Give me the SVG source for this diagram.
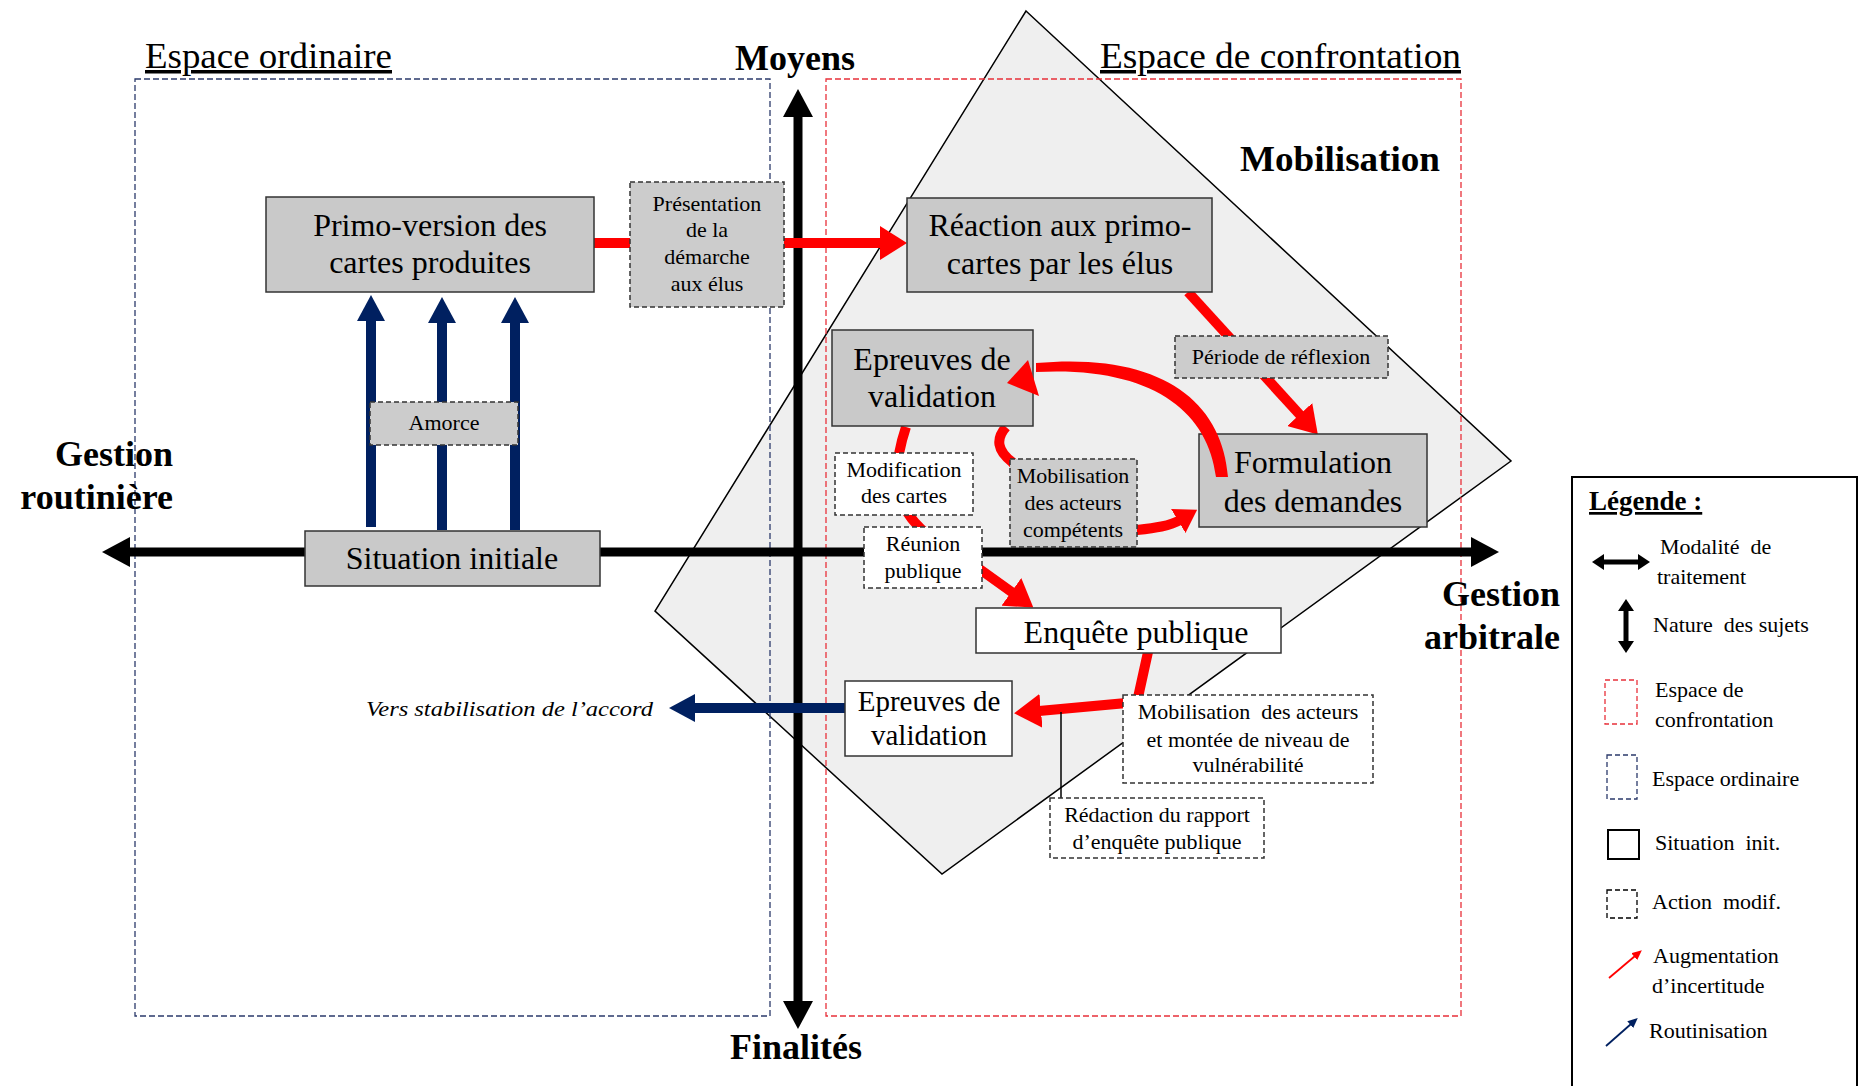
<svg xmlns="http://www.w3.org/2000/svg" width="1859" height="1086" viewBox="0 0 1859 1086">
<style>
text { font-family: "Liberation Serif", "Times New Roman", serif; fill: #000; }
.h { font-weight: bold; font-size: 36px; }
.ttl { font-size: 35px; text-decoration: underline; }
.big { font-size: 32px; text-anchor: middle; }
.mid { font-size: 29px; text-anchor: middle; }
.sm { font-size: 22px; text-anchor: middle; }
.leg { font-size: 22px; }
.box { fill: #c9c9c9; stroke: #333; stroke-width: 1.5; }
.wbox { fill: #fff; stroke: #333; stroke-width: 1.5; }
.dbox { fill: #cccccc; stroke: #333; stroke-width: 1.5; stroke-dasharray: 5 3; }
.dwbox { fill: #fff; stroke: #333; stroke-width: 1.5; stroke-dasharray: 5 3; }
.red { fill: none; stroke: #ff0000; stroke-width: 10; }
.blue { fill: none; stroke: #002060; stroke-width: 10; }
.axis { fill: none; stroke: #000; stroke-width: 9; }
.space-o { fill: none; stroke: #2b3a6b; stroke-width: 1.3; stroke-dasharray: 6 3; }
.space-c { fill: none; stroke: #e8303a; stroke-width: 1.3; stroke-dasharray: 6 3; }
</style>
<defs>
<marker id="ah-axis" viewBox="0 0 28 30" refX="2" refY="15" markerWidth="28" markerHeight="30" markerUnits="userSpaceOnUse" orient="auto-start-reverse"><path d="M0,0 L28,15 L0,30 z" fill="#000"/></marker>
<marker id="ah-red" viewBox="0 0 27 34" refX="2" refY="17" markerWidth="27" markerHeight="34" markerUnits="userSpaceOnUse" orient="auto"><path d="M0,0 L27,17 L0,34 z" fill="#ff0000"/></marker>
<marker id="ah-red-sm" viewBox="0 0 22 28" refX="2" refY="14" markerWidth="22" markerHeight="28" markerUnits="userSpaceOnUse" orient="auto"><path d="M0,0 L22,14 L0,28 z" fill="#ff0000"/></marker>
<marker id="ah-blue" viewBox="0 0 26 28" refX="2" refY="14" markerWidth="26" markerHeight="28" markerUnits="userSpaceOnUse" orient="auto"><path d="M0,0 L26,14 L0,28 z" fill="#002060"/></marker>
<marker id="ah-leg" viewBox="0 0 12 16" refX="1" refY="8" markerWidth="12" markerHeight="16" markerUnits="userSpaceOnUse" orient="auto-start-reverse"><path d="M0,0 L12,8 L0,16 z" fill="#000"/></marker>
<marker id="ah-leg-red" viewBox="0 0 10 9" refX="1" refY="4.5" markerWidth="10" markerHeight="9" markerUnits="userSpaceOnUse" orient="auto"><path d="M0,0 L10,4.5 L0,9 z" fill="#ff0000"/></marker>
<marker id="ah-leg-blue" viewBox="0 0 10 9" refX="1" refY="4.5" markerWidth="10" markerHeight="9" markerUnits="userSpaceOnUse" orient="auto"><path d="M0,0 L10,4.5 L0,9 z" fill="#002060"/></marker>
</defs>

<rect x="0" y="0" width="1859" height="1086" fill="#fff"/>

<g id="mobilisation-zone">
<polygon points="1026,11 1511,461 942,874 655,611" fill="#efefef" stroke="#000" stroke-width="1.5"/>
<text class="h" x="1240" y="171" textLength="200" lengthAdjust="spacingAndGlyphs">Mobilisation</text>
</g>

<g id="espace-ordinaire">
<rect class="space-o" x="135" y="79" width="635" height="937"/>
<text class="ttl" x="145" y="68" textLength="247" lengthAdjust="spacingAndGlyphs">Espace ordinaire</text>
</g>
<g id="espace-confrontation">
<rect class="space-c" x="826" y="79" width="635" height="937"/>
<text class="ttl" x="1100" y="68" textLength="361" lengthAdjust="spacingAndGlyphs">Espace de confrontation</text>
</g>

<g id="axes">
<line class="axis" x1="128" y1="552" x2="1473" y2="552" marker-start="url(#ah-axis)" marker-end="url(#ah-axis)"/>
<line class="axis" x1="798" y1="115" x2="798" y2="1003" marker-start="url(#ah-axis)" marker-end="url(#ah-axis)"/>
<text class="h" x="735" y="70">Moyens</text>
<text class="h" x="730" y="1059">Finalités</text>
<text class="h" x="173" y="466" text-anchor="end">Gestion</text>
<text class="h" x="173" y="509" text-anchor="end">routinière</text>
<text class="h" x="1560" y="606" text-anchor="end">Gestion</text>
<text class="h" x="1560" y="649" text-anchor="end">arbitrale</text>
</g>

<g id="connectors">
<path class="blue" d="M371 527 L371 319" marker-end="url(#ah-blue)"/>
<path class="blue" d="M442 530 L442 321" marker-end="url(#ah-blue)"/>
<path class="blue" d="M515 530 L515 321" marker-end="url(#ah-blue)"/>
<path class="blue" d="M845 708 L693 708" marker-end="url(#ah-blue)"/>
<path class="red" d="M594 243 L882 243" marker-end="url(#ah-red)"/>
<path class="red" d="M1188 292 L1301 416" marker-end="url(#ah-red)"/>
<path class="red" d="M906 427 C885 490 900 525 960 555 L1013 593" marker-end="url(#ah-red)"/>
<path class="red" d="M1148 652 L1137 702 L1039 711" marker-end="url(#ah-red)"/>
<path class="red" stroke-width="11" d="M1006 427 Q990 445 1012 462 L1080 540 L1137 530 C1155 528 1170 526 1180 520" marker-end="url(#ah-red-sm)"/>
<path d="M1061 712 L1061 798" fill="none" stroke="#000" stroke-width="1.5"/>
</g>

<g id="node-primo">
<rect class="box" x="266" y="197" width="328" height="95"/>
<text class="big" x="430" y="236">Primo-version des</text>
<text class="big" x="430" y="273">cartes produites</text>
</g>
<g id="node-presentation">
<rect class="dbox" x="630" y="182" width="154" height="125"/>
<text class="sm" x="707" y="211">Présentation</text>
<text class="sm" x="707" y="237">de la</text>
<text class="sm" x="707" y="264">démarche</text>
<text class="sm" x="707" y="291">aux élus</text>
</g>
<g id="node-reaction">
<rect class="box" x="907" y="198" width="305" height="94"/>
<text class="big" x="1060" y="236">Réaction aux primo-</text>
<text class="big" x="1060" y="274">cartes par les élus</text>
</g>
<g id="node-periode">
<rect class="dbox" x="1175" y="336" width="213" height="42"/>
<text class="sm" x="1281" y="364">Période de réflexion</text>
</g>
<g id="node-epreuves-1">
<rect class="box" x="832" y="330" width="201" height="96"/>
<text class="big" x="932" y="370">Epreuves de</text>
<text class="big" x="932" y="407">validation</text>
</g>
<g id="node-formulation">
<rect class="box" x="1199" y="434" width="228" height="93"/>
<text class="big" x="1313" y="473">Formulation</text>
<text class="big" x="1313" y="512">des demandes</text>
</g>
<g id="node-modification">
<rect class="dwbox" x="835" y="453" width="138" height="62"/>
<text class="sm" x="904" y="477">Modification</text>
<text class="sm" x="904" y="503">des cartes</text>
</g>
<g id="node-mobilisation-competents">
<rect class="dbox" x="1010" y="459" width="127" height="88"/>
<text class="sm" x="1073" y="483">Mobilisation</text>
<text class="sm" x="1073" y="510">des acteurs</text>
<text class="sm" x="1073" y="537">compétents</text>
</g>
<g id="node-reunion">
<rect class="dwbox" x="864" y="527" width="118" height="61"/>
<text class="sm" x="923" y="551">Réunion</text>
<text class="sm" x="923" y="578">publique</text>
</g>
<g id="node-amorce">
<rect class="dbox" x="370" y="402" width="148" height="43"/>
<text class="sm" x="444" y="430">Amorce</text>
</g>
<g id="node-situation">
<rect class="box" x="305" y="531" width="295" height="55"/>
<text class="big" x="452" y="569">Situation initiale</text>
</g>
<g id="node-enquete">
<rect class="wbox" x="976" y="608" width="305" height="45"/>
<text class="big" x="1136" y="643">Enquête publique</text>
</g>
<g id="node-epreuves-2">
<rect class="wbox" x="845" y="681" width="167" height="75"/>
<text class="mid" x="929" y="711">Epreuves de</text>
<text class="mid" x="929" y="745">validation</text>
</g>
<g id="node-mobilisation-vulnerabilite">
<rect class="dwbox" x="1123" y="695" width="250" height="88"/>
<text class="sm" x="1248" y="719" xml:space="preserve">Mobilisation  des acteurs</text>
<text class="sm" x="1248" y="747">et montée de niveau de</text>
<text class="sm" x="1248" y="772">vulnérabilité</text>
</g>
<g id="node-redaction">
<rect class="dwbox" x="1050" y="798" width="214" height="60"/>
<text class="sm" x="1157" y="822">Rédaction du rapport</text>
<text class="sm" x="1157" y="849">d’enquête publique</text>
</g>
<g id="node-stabilisation">
<text x="366" y="716" font-size="22" font-style="italic" textLength="287" lengthAdjust="spacingAndGlyphs">Vers stabilisation de l’accord</text>
</g>

<g id="connectors-top">
<path d="M1228 477 C1222 400 1160 352 1036 363 L1036 372 C1150 366 1208 410 1216 477 Z" fill="#ff0000"/>
<polygon points="1007,383 1028,360 1039,396" fill="#ff0000"/>
</g>

<g id="legend">
<rect x="1572" y="477" width="285" height="620" fill="#fff" stroke="#000" stroke-width="2"/>
<text x="1589" y="510" font-size="27" font-weight="bold" text-decoration="underline">Légende :</text>
<line x1="1603" y1="562" x2="1639" y2="562" stroke="#000" stroke-width="5" marker-start="url(#ah-leg)" marker-end="url(#ah-leg)"/>
<text class="leg" x="1660" y="554" xml:space="preserve">Modalité  de</text>
<text class="leg" x="1657" y="584">traitement</text>
<line x1="1626" y1="610" x2="1626" y2="642" stroke="#000" stroke-width="5" marker-start="url(#ah-leg)" marker-end="url(#ah-leg)"/>
<text class="leg" x="1653" y="632" xml:space="preserve">Nature  des sujets</text>
<rect x="1605" y="680" width="32" height="44" fill="none" stroke="#e8303a" stroke-width="1.3" stroke-dasharray="5 3"/>
<text class="leg" x="1655" y="697">Espace de</text>
<text class="leg" x="1655" y="727">confrontation</text>
<rect x="1607" y="755" width="30" height="44" fill="none" stroke="#2b3a6b" stroke-width="1.3" stroke-dasharray="5 3"/>
<text class="leg" x="1652" y="786">Espace ordinaire</text>
<rect x="1608" y="830" width="31" height="29" fill="none" stroke="#000" stroke-width="2"/>
<text class="leg" x="1655" y="850" xml:space="preserve">Situation  init.</text>
<rect x="1607" y="890" width="30" height="28" fill="none" stroke="#000" stroke-width="1.3" stroke-dasharray="5 3"/>
<text class="leg" x="1652" y="909" xml:space="preserve">Action  modif.</text>
<line x1="1609" y1="978" x2="1635" y2="956" stroke="#ff0000" stroke-width="1.8" marker-end="url(#ah-leg-red)"/>
<text class="leg" x="1653" y="963">Augmentation</text>
<text class="leg" x="1652" y="993">d’incertitude</text>
<line x1="1606" y1="1046" x2="1631" y2="1024" stroke="#002060" stroke-width="1.8" marker-end="url(#ah-leg-blue)"/>
<text class="leg" x="1649" y="1038">Routinisation</text>
</g>
</svg>
